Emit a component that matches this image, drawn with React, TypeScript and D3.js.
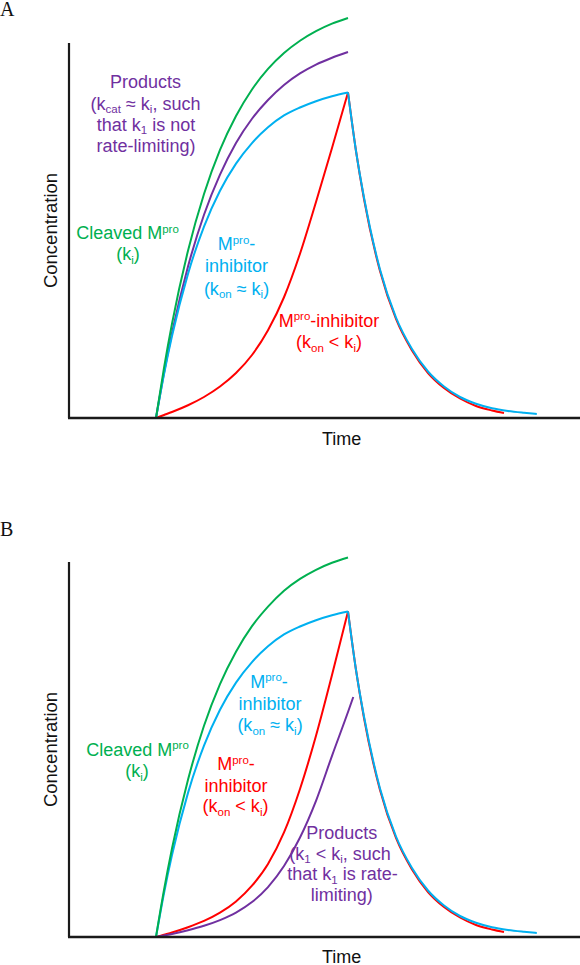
import React from "react";
import * as d3 from "d3";

// ---- data (time in arbitrary units, concentration in arbitrary units) ----
const riseT = [5.5, 6, 6.5, 7.5, 8.5, 9.5, 10.5, 11.5, 12.5, 13.5, 14.5, 15.5, 16.5, 17.5];
const decayT = [17.5, 18, 18.5, 19.5, 20.5, 21.5, 22.5, 23.5, 24.5, 25.5, 26.5, 27.5, 28.5, 29.3];
const decaySlowT = [17.5, 18, 18.5, 19.5, 20.5, 21.5, 22.5, 23.5, 24.5, 25.5, 26.5, 27.25];

// Panel A
const aCleaved = [0, 3.34, 6.28, 11.15, 14.93, 17.87, 20.13, 21.9, 23.27, 24.33, 25.15, 25.79, 26.29, 26.67];
const aProducts = [0, 3.0, 5.67, 10.1, 13.55, 16.22, 18.33, 19.95, 21.2, 22.2, 22.97, 23.56, 24.02, 24.4];
const aFastRise = [0, 2.92, 5.46, 9.61, 12.76, 15.15, 16.96, 18.33, 19.38, 20.17, 20.7, 21.12, 21.45, 21.7];
const aSlowRise = [0, 0.2, 0.4, 0.85, 1.4, 2.1, 3.0, 4.2, 5.85, 8.05, 10.95, 14.4, 18.0, 21.7];
const aFastDecay = [21.7, 17.8, 14.7, 9.9, 6.7, 4.6, 3.1, 2.1, 1.4, 0.95, 0.65, 0.47, 0.35, 0.27];
const aSlowDecay = [21.7, 17.8, 14.6, 9.8, 6.6, 4.5, 3.0, 2.0, 1.3, 0.8, 0.5, 0.33];

// Panel B
const bCleaved = [0, 3.13, 5.9, 10.48, 14.08, 16.86, 19.02, 20.72, 22.02, 23.08, 23.87, 24.48, 24.95, 25.3];
const bProductsT = [5.5, 6, 6.5, 7.5, 8.5, 9.5, 10.5, 11.5, 12.5, 13.5, 14.5, 15.5, 16.5, 17.5, 17.83];
const bProducts = [0, 0.1, 0.2, 0.45, 0.75, 1.13, 1.63, 2.33, 3.33, 4.73, 6.63, 9.08, 12.08, 15.0, 16.0];
const bFastRise = [0, 2.92, 5.46, 9.61, 12.76, 15.15, 16.96, 18.33, 19.38, 20.17, 20.7, 21.12, 21.45, 21.7];
const bSlowRise = [0, 0.15, 0.3, 0.65, 1.07, 1.62, 2.37, 3.42, 4.87, 6.97, 9.87, 13.42, 17.47, 21.7];
const bFastDecay = [21.7, 17.8, 14.7, 9.9, 6.7, 4.6, 3.1, 2.1, 1.4, 0.95, 0.65, 0.47, 0.35, 0.27];
const bSlowDecay = [21.7, 17.8, 14.6, 9.8, 6.6, 4.5, 3.0, 2.0, 1.3, 0.8, 0.5, 0.33];

const X_DOMAIN: [number, number] = [0, 32];
const Y_DOMAIN: [number, number] = [0, 25];

const GREEN = "#00b050";
const PURPLE = "#7030a0";
const CYAN = "#00b0f0";
const RED = "#ff0000";
const SANS = "'Liberation Sans', Arial, Helvetica, sans-serif";
const SERIF = "'Liberation Serif', 'Times New Roman', serif";

type Seg = { t: string; s?: "sub" | "sup" };

function Label({ x, y, color, segs, size = 18 }: { x: number; y: number; color: string; segs: Seg[]; size?: number }) {
  let cur = 0;
  return (
    <text x={x} y={y} textAnchor="middle" fill={color} fontSize={size} fontFamily={SANS} style={{ whiteSpace: "pre" }}>
      {segs.map((sg, i) => {
        const target = sg.s === "sub" ? 3.5 : sg.s === "sup" ? -6.5 : 0;
        const dy = target - cur;
        cur = target;
        return (
          <tspan key={i} dy={dy} fontSize={sg.s ? 11.5 : size}>
            {sg.t}
          </tspan>
        );
      })}
    </text>
  );
}

function Panel({
  top,
  bottom,
  letter,
  letterY,
  series,
  labels,
  timeY,
}: {
  top: number;
  bottom: number;
  letter: string;
  letterY: number;
  series: { t: number[]; v: number[]; color: string }[];
  labels: { x: number; y: number; color: string; segs: Seg[] }[];
  timeY: number;
}) {
  const x = d3.scaleLinear().domain(X_DOMAIN).range([68, 580]);
  const y = d3.scaleLinear().domain(Y_DOMAIN).range([bottom, top]);
  const line = d3
    .line<[number, number]>()
    .x((d) => x(d[0]))
    .y((d) => y(d[1]))
    .curve(d3.curveMonotoneX);
  const x0 = x(X_DOMAIN[0]);
  return (
    <g>
      <text x={0} y={letterY} fontFamily={SERIF} fontSize={20} fill="#111">
        {letter}
      </text>
      {series.map((s, i) => (
        <path
          key={i}
          d={line(s.t.map((t, j) => [t, s.v[j]] as [number, number])) || ""}
          fill="none"
          stroke={s.color}
          strokeWidth={2}
          strokeLinecap="butt"
        />
      ))}
      <line x1={x0 + 1} x2={x0 + 1} y1={y(Y_DOMAIN[1])} y2={y(0)} stroke="#1a1a1a" strokeWidth={2.2} />
      <line x1={x0} x2={x(X_DOMAIN[1])} y1={y(0)} y2={y(0)} stroke="#1a1a1a" strokeWidth={2.5} />
      <text
        transform={`translate(57,${(y(0) + y(Y_DOMAIN[1])) / 2}) rotate(-90)`}
        textAnchor="middle"
        fontFamily={SANS}
        fontSize={18.5}
        fill="#111"
      >
        Concentration
      </text>
      <text x={341.7} y={timeY} textAnchor="middle" fontFamily={SANS} fontSize={18} fill="#111">
        Time
      </text>
      {labels.map((l, i) => (
        <Label key={i} {...l} />
      ))}
    </g>
  );
}

const mproDash: Seg[] = [{ t: "M" }, { t: "pro", s: "sup" }, { t: "-" }];
const cleaved: Seg[] = [{ t: "Cleaved M" }, { t: "pro", s: "sup" }];
const ki: Seg[] = [{ t: "(k" }, { t: "i", s: "sub" }, { t: ")" }];
const konApprox: Seg[] = [{ t: "(k" }, { t: "on", s: "sub" }, { t: " ≈ k" }, { t: "i", s: "sub" }, { t: ")" }];
const konLess: Seg[] = [{ t: "(k" }, { t: "on", s: "sub" }, { t: " < k" }, { t: "i", s: "sub" }, { t: ")" }];

export default function App() {
  const seriesA = [
    { t: riseT, v: aSlowRise, color: RED },
    { t: decaySlowT, v: aSlowDecay, color: RED },
    { t: riseT, v: aProducts, color: PURPLE },
    { t: riseT, v: aFastRise, color: CYAN },
    { t: decayT, v: aFastDecay, color: CYAN },
    { t: riseT, v: aCleaved, color: GREEN },
  ];
  const seriesB = [
    { t: riseT, v: bSlowRise, color: RED },
    { t: decaySlowT, v: bSlowDecay, color: RED },
    { t: bProductsT, v: bProducts, color: PURPLE },
    { t: riseT, v: bFastRise, color: CYAN },
    { t: decayT, v: bFastDecay, color: CYAN },
    { t: riseT, v: bCleaved, color: GREEN },
  ];
  const labelsA = [
    { x: 145.5, y: 88.3, color: PURPLE, segs: [{ t: "Products" }] },
    {
      x: 145.5,
      y: 109.5,
      color: PURPLE,
      segs: [{ t: "(k" }, { t: "cat", s: "sub" }, { t: " ≈ k" }, { t: "i", s: "sub" }, { t: ", such" }] as Seg[],
    },
    { x: 146, y: 130.5, color: PURPLE, segs: [{ t: "that k" }, { t: "1", s: "sub" }, { t: " is not" }] as Seg[] },
    { x: 146, y: 151.5, color: PURPLE, segs: [{ t: "rate-limiting)" }] },
    { x: 127.5, y: 239, color: GREEN, segs: cleaved },
    { x: 128, y: 260, color: GREEN, segs: ki },
    { x: 236.5, y: 250, color: CYAN, segs: mproDash },
    { x: 236.5, y: 272.3, color: CYAN, segs: [{ t: "inhibitor" }] },
    { x: 236.5, y: 294.5, color: CYAN, segs: konApprox },
    { x: 329, y: 326.7, color: RED, segs: [{ t: "M" }, { t: "pro", s: "sup" }, { t: "-inhibitor" }] as Seg[] },
    { x: 329, y: 348.3, color: RED, segs: konLess },
  ];
  const labelsB = [
    { x: 269, y: 687.5, color: CYAN, segs: mproDash },
    { x: 270, y: 709.5, color: CYAN, segs: [{ t: "inhibitor" }] },
    { x: 270, y: 731, color: CYAN, segs: konApprox },
    { x: 137.5, y: 755.5, color: GREEN, segs: cleaved },
    { x: 137, y: 777, color: GREEN, segs: ki },
    { x: 236, y: 770, color: RED, segs: mproDash },
    { x: 236, y: 791.5, color: RED, segs: [{ t: "inhibitor" }] },
    { x: 235.5, y: 812, color: RED, segs: konLess },
    { x: 341.7, y: 838.5, color: PURPLE, segs: [{ t: "Products" }] },
    {
      x: 340,
      y: 859.5,
      color: PURPLE,
      segs: [{ t: "(k" }, { t: "1", s: "sub" }, { t: " < k" }, { t: "i", s: "sub" }, { t: ", such" }] as Seg[],
    },
    { x: 342.5, y: 880, color: PURPLE, segs: [{ t: "that k" }, { t: "1", s: "sub" }, { t: " is rate-" }] as Seg[] },
    { x: 341.7, y: 900.5, color: PURPLE, segs: [{ t: "limiting)" }] },
  ];
  return (
    <svg
      width={580}
      height={965}
      viewBox="0 0 580 965"
      style={{ position: "absolute", left: 0, top: 0, background: "#fff", display: "block" }}
    >
      <rect x={0} y={0} width={580} height={965} fill="#fff" />
      <Panel top={43} bottom={418} letter="A" letterY={16} series={seriesA} labels={labelsA} timeY={445} />
      <Panel top={562} bottom={937} letter="B" letterY={535.5} series={seriesB} labels={labelsB} timeY={962.5} />
    </svg>
  );
}
